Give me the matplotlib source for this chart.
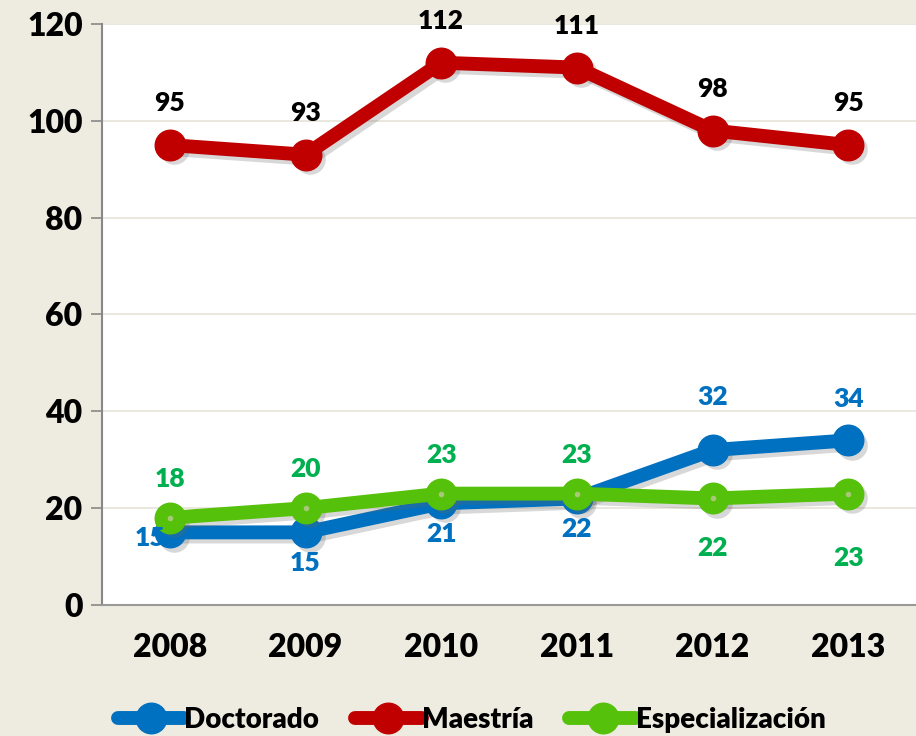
import matplotlib
matplotlib.use("Agg")
import matplotlib.pyplot as plt
import matplotlib.transforms as mtransforms

years = ["2008", "2009", "2010", "2011", "2012", "2013"]
doctorado = [15, 15, 21, 22, 32, 34]
maestria = [95, 93, 112, 111, 98, 95]
especializacion = [18, 20, 23, 23, 22, 23]

plt.rcParams['font.family'] = ['Lato', 'DejaVu Sans']
W = "heavy"

bg = "#EEECE1"
fig = plt.figure(figsize=(9.16, 7.36), dpi=100, facecolor=bg)
ax = fig.add_axes([0.1114, 0.178, 0.8886, 0.7894])
ax.set_facecolor("white")

x = [i + 0.5 for i in range(len(years))]
shadow_tr = mtransforms.offset_copy(ax.transData, fig=fig, x=3, y=-3, units="points")

series = [
    ("Doctorado", doctorado, "#0070C0", "#0070C0"),
    ("Maestría", maestria, "#C00000", "#000000"),
    ("Especialización", especializacion, "#55C10A", "#00B050"),
]
# label offsets in points (dx, dy) per point
offsets = {
    "Doctorado": [(-14, -4), (0, -22), (0, -22), (0, -22), (0, 38), (0, 30)],
    "Maestría": [(0, 30), (0, 30), (0, 30), (0, 30), (0, 30), (0, 30)],
    "Especialización": [(0, 28), (0, 28), (0, 28), (0, 28), (0, -36), (0, -46)],
}

handles = []
for k, (name, vals, col, tcol) in enumerate(series):
    z = 3 + k
    ax.plot(x, vals, color="#666666", alpha=0.25, lw=10, marker="o", ms=22, mec="none",
            solid_capstyle="round", transform=shadow_tr, zorder=z - 0.5)
    ln, = ax.plot(x, vals, color=col, lw=10, marker="o", ms=22, mfc=col, mec=col,
                  solid_capstyle="round", label=name, zorder=z)
    handles.append(ln)
    if name == "Especialización":
        ax.plot(x, vals, ls="none", marker="o", ms=4, mfc="#A8C878", mec="none", zorder=z + 0.1)
    for xi, v, (dx, dy) in zip(x, vals, offsets[name]):
        ax.annotate(str(v), (xi, v), xytext=(dx, dy), textcoords="offset points",
                    ha="center", va="center", fontsize=19, fontweight=W, color=tcol, zorder=10)

ax.set_xlim(0, 6)
ax.set_ylim(0, 120)
ax.set_yticks(range(0, 121, 20))
ax.set_xticks(x)
ax.set_xticklabels(years)
ax.tick_params(axis="y", length=8, width=1.2, color="#888888", labelsize=23, pad=6)
ax.tick_params(axis="x", length=0, labelsize=23, pad=20)
for lab in ax.get_xticklabels() + ax.get_yticklabels():
    lab.set_fontweight(W)
ax.grid(axis="y", color="#E6E3D8", lw=1.2)
ax.set_axisbelow(True)
for s in ["top", "right"]:
    ax.spines[s].set_visible(False)
ax.spines["left"].set_color("#888888")
ax.spines["left"].set_linewidth(1.5)
ax.spines["bottom"].set_color("#999999")
ax.spines["bottom"].set_linewidth(1.5)

leg = fig.legend(handles=handles, loc="lower center", bbox_to_anchor=(0.515, -0.03), ncol=3,
                 frameon=False, handlelength=2.4, handletextpad=0.0, columnspacing=1.3,
                 prop={"weight": W, "size": 20})
for h in leg.legend_handles:
    h.set_markersize(22)

fig.savefig("out.png", dpi=100, facecolor=bg)
